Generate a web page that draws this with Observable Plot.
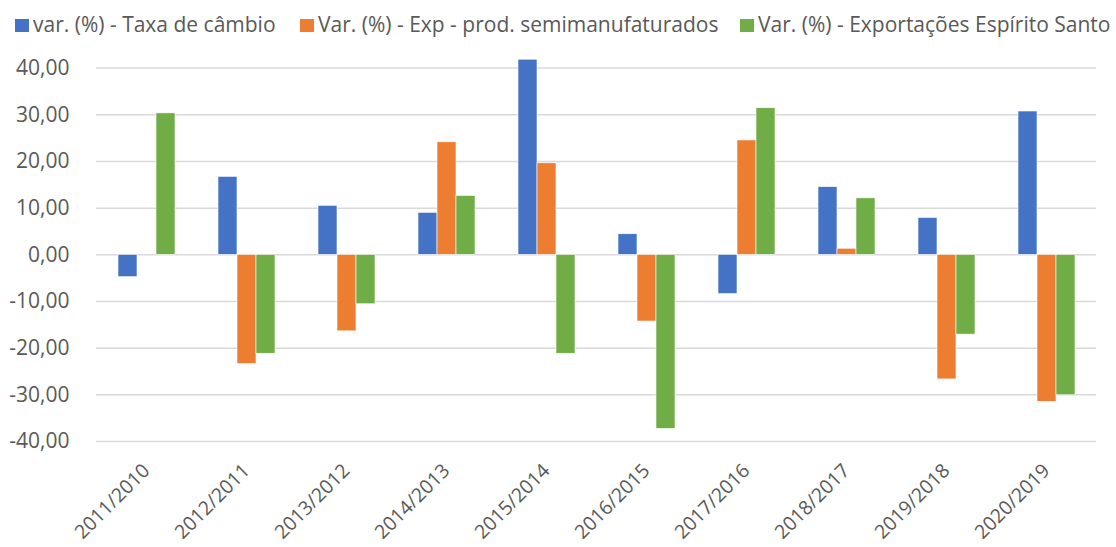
<!DOCTYPE html>
<html>
<head>
<meta charset="utf-8">
<script src="https://cdn.jsdelivr.net/npm/d3@7"></script>
<script src="https://cdn.jsdelivr.net/npm/@observablehq/plot@0.6"></script>
<style>
  html, body { margin: 0; padding: 0; background: #fff; }
  body { width: 1116px; height: 547px; overflow: hidden; font-family: "Open Sans", sans-serif; }
  #legend { position: relative; height: 35px; color: #595959; font-size: 21px; }
  #legend .item { position: absolute; top: 9px; white-space: nowrap; line-height: 30px; height: 30px; }
  #legend .sw { display: inline-block; width: 14px; height: 13px; margin-right: 4px; vertical-align: 0px; }
  #chart svg { display: block; }
  #chart svg g[aria-label^="fx-axis"] text { font-size: 19.5px; }
</style>
</head>
<body>
<div id="legend"></div>
<div id="chart"></div>
<script>
const categories = ["2011/2010", "2012/2011", "2013/2012", "2014/2013", "2015/2014", "2016/2015", "2017/2016", "2018/2017", "2019/2018", "2020/2019"];
const series = ["var. (%) - Taxa de câmbio", "Var. (%) - Exp - prod. semimanufaturados", "Var. (%) - Exportações Espírito Santo"];
const taxaCambio = [-4.8, 16.7, 10.5, 9.0, 41.8, 4.4, -8.4, 14.5, 7.9, 30.7];
const expSemimanufaturados = [0, -23.4, -16.4, 24.1, 19.6, -14.3, 24.5, 1.3, -26.7, -31.5];
const exportacoesES = [30.3, -21.2, -10.6, 12.6, -21.2, -37.3, 31.4, 12.1, -17.1, -30.1];
const colors = ["#4472C4", "#ED7D31", "#70AD47"];
const yTicks = [-40, -30, -20, -10, 0, 10, 20, 30, 40];

const seriesValues = [taxaCambio, expSemimanufaturados, exportacoesES];
const data = [];
categories.forEach((c, i) => {
  series.forEach((s, j) => data.push({cat: c, series: s, value: seriesValues[j][i]}));
});

// legend
const legendPos = [15, 300, 740];
const legend = document.getElementById("legend");
series.forEach((s, j) => {
  const it = document.createElement("div");
  it.className = "item";
  it.style.left = legendPos[j] + "px";
  it.innerHTML = `<span class="sw" style="background:${colors[j]}"></span>${s}`;
  legend.appendChild(it);
});

const fmt = d => d.toFixed(2).replace(".", ",");

const chart = Plot.plot({
  width: 1116,
  height: 512,
  marginLeft: 94,
  marginRight: 19,
  marginTop: 32.6,
  marginBottom: 106,
  style: {fontFamily: "Open Sans", fontSize: "21px", color: "#595959", background: "white"},
  fx: {domain: categories, padding: 0, axis: "bottom", tickSize: 0, tickPadding: 26, tickRotate: -45, label: null},
  x: {domain: series, axis: null, paddingInner: 0, paddingOuter: 1.01},
  y: {domain: [-40, 40], ticks: yTicks, tickFormat: fmt, tickSize: 0, tickPadding: 27, label: null},
  color: {domain: series, range: colors},
  marks: [
    Plot.ruleY(yTicks, {stroke: "#D9D9D9", strokeWidth: 1.5}),
    Plot.barY(data, {fx: "cat", x: "series", y: "value", fill: "series", stroke: "white", strokeWidth: 0.6})
  ]
});
document.getElementById("chart").appendChild(chart);
</script>
</body>
</html>
